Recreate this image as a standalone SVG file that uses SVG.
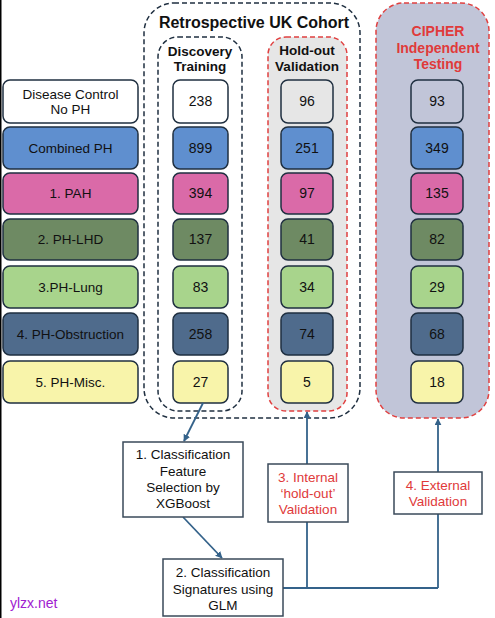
<svg xmlns="http://www.w3.org/2000/svg" width="495" height="618" viewBox="0 0 495 618">
<defs>
<marker id="arr" viewBox="0 0 10 10" refX="9" refY="5" markerWidth="7" markerHeight="7" markerUnits="userSpaceOnUse" orient="auto">
<path d="M0,0 L10,5 L0,10 z" fill="#34628a"/>
</marker>
</defs>
<style>
text{font-family:"Liberation Sans",Arial,sans-serif;fill:#111;text-anchor:middle}
.lbl{font-size:13.5px}
.num{font-size:14px}
.hd{font-size:13.5px;font-weight:bold}
.red{fill:#e03a3a}
.box{stroke:#1f2f40;stroke-width:1.5}
.step{fill:#fff;stroke:#3a4a5a;stroke-width:1.5}
.con{stroke:#34628a;stroke-width:1.8;fill:none}
.c0{fill:#ffffff}.c1{fill:#5f8fcf}.c2{fill:#da6aa8}.c3{fill:#6e8a63}.c4{fill:#a8d48c}.c5{fill:#4f6b8c}.c6{fill:#f8f4aa}
</style>
<rect x="0" y="0" width="495" height="618" fill="#fff"/>
<rect x="0" y="0" width="1.5" height="618" fill="#000"/>

<g id="cipher-group">
<rect x="376" y="3" width="113" height="415" rx="28" fill="#c1c5d8" stroke="#e04040" stroke-width="1.5" stroke-dasharray="5 3"/>
<text x="438" y="36" class="hd red" style="font-size:14px">CIPHER</text>
<text x="438" y="53" class="hd red" style="font-size:14px">Independent</text>
<text x="438" y="69" class="hd red" style="font-size:14px">Testing</text>
</g>
<g id="retro-group">
<rect x="144" y="3" width="216" height="415" rx="30" fill="none" stroke="#1f2f40" stroke-width="1.5" stroke-dasharray="5 3"/>
<text x="254" y="28" style="font-size:16px;font-weight:bold">Retrospective UK Cohort</text>
</g>
<g id="discovery-group">
<rect x="158" y="37" width="84" height="374" rx="20" fill="none" stroke="#1f2f40" stroke-width="1.5" stroke-dasharray="5 3"/>
<text x="200" y="56" class="hd">Discovery</text>
<text x="200" y="71" class="hd">Training</text>
</g>
<g id="holdout-group">
<rect x="268" y="37" width="79" height="374" rx="18" fill="#e6e6e6" stroke="#e04040" stroke-width="1.5" stroke-dasharray="5 3"/>
<text x="307" y="55" class="hd">Hold-out</text>
<text x="307" y="71" class="hd">Validation</text>
</g>

<g id="labels">
<g id="lbl-control"><rect class="box c0" x="3" y="80" width="135" height="43" rx="7"/><text class="lbl" x="70.5" y="99">Disease Control</text><text class="lbl" x="70.5" y="114">No PH</text></g>
<g id="lbl-combined"><rect class="box c1" x="3" y="127" width="135" height="42" rx="7"/><text class="lbl" x="70.5" y="153">Combined PH</text></g>
<g id="lbl-pah"><rect class="box c2" x="3" y="173" width="135" height="41" rx="7"/><text class="lbl" x="70.5" y="198">1. PAH</text></g>
<g id="lbl-lhd"><rect class="box c3" x="3" y="219" width="135" height="41" rx="7"/><text class="lbl" x="70.5" y="244">2. PH-LHD</text></g>
<g id="lbl-lung"><rect class="box c4" x="3" y="266" width="135" height="42" rx="7"/><text class="lbl" x="70.5" y="292">3.PH-Lung</text></g>
<g id="lbl-obs"><rect class="box c5" x="3" y="313" width="135" height="42" rx="7"/><text class="lbl" x="70.5" y="339">4. PH-Obstruction</text></g>
<g id="lbl-misc"><rect class="box c6" x="3" y="361" width="135" height="42" rx="7"/><text class="lbl" x="70.5" y="387">5. PH-Misc.</text></g>
</g>

<g id="disc-nums">
<g id="d1"><rect class="box c0" x="173" y="80" width="55" height="43" rx="7"/><text class="num" x="200.5" y="106">238</text></g>
<g id="d2"><rect class="box c1" x="173" y="127" width="55" height="42" rx="7"/><text class="num" x="200.5" y="153">899</text></g>
<g id="d3"><rect class="box c2" x="173" y="173" width="55" height="41" rx="7"/><text class="num" x="200.5" y="198">394</text></g>
<g id="d4"><rect class="box c3" x="173" y="219" width="55" height="41" rx="7"/><text class="num" x="200.5" y="244">137</text></g>
<g id="d5"><rect class="box c4" x="173" y="266" width="55" height="42" rx="7"/><text class="num" x="200.5" y="292">83</text></g>
<g id="d6"><rect class="box c5" x="173" y="313" width="55" height="42" rx="7"/><text class="num" x="200.5" y="339">258</text></g>
<g id="d7"><rect class="box c6" x="173" y="361" width="55" height="42" rx="7"/><text class="num" x="200.5" y="387">27</text></g>
</g>

<g id="hold-nums">
<g id="h1"><rect class="box" fill="#e6e6e6" x="281" y="80" width="52" height="43" rx="7"/><text class="num" x="307" y="106">96</text></g>
<g id="h2"><rect class="box c1" x="281" y="127" width="52" height="42" rx="7"/><text class="num" x="307" y="153">251</text></g>
<g id="h3"><rect class="box c2" x="281" y="173" width="52" height="41" rx="7"/><text class="num" x="307" y="198">97</text></g>
<g id="h4"><rect class="box c3" x="281" y="219" width="52" height="41" rx="7"/><text class="num" x="307" y="244">41</text></g>
<g id="h5"><rect class="box c4" x="281" y="266" width="52" height="42" rx="7"/><text class="num" x="307" y="292">34</text></g>
<g id="h6"><rect class="box c5" x="281" y="313" width="52" height="42" rx="7"/><text class="num" x="307" y="339">74</text></g>
<g id="h7"><rect class="box c6" x="281" y="361" width="52" height="42" rx="7"/><text class="num" x="307" y="387">5</text></g>
</g>

<g id="cipher-nums">
<g id="i1"><rect class="box" fill="#c1c5d8" x="411" y="80" width="52" height="43" rx="7"/><text class="num" x="437" y="106">93</text></g>
<g id="i2"><rect class="box c1" x="411" y="127" width="52" height="42" rx="7"/><text class="num" x="437" y="153">349</text></g>
<g id="i3"><rect class="box c2" x="411" y="173" width="52" height="41" rx="7"/><text class="num" x="437" y="198">135</text></g>
<g id="i4"><rect class="box c3" x="411" y="219" width="52" height="41" rx="7"/><text class="num" x="437" y="244">82</text></g>
<g id="i5"><rect class="box c4" x="411" y="266" width="52" height="42" rx="7"/><text class="num" x="437" y="292">29</text></g>
<g id="i6"><rect class="box c5" x="411" y="313" width="52" height="42" rx="7"/><text class="num" x="437" y="339">68</text></g>
<g id="i7"><rect class="box c6" x="411" y="361" width="52" height="42" rx="7"/><text class="num" x="437" y="387">18</text></g>
</g>

<g id="connectors">
<line class="con" x1="203" y1="403" x2="184" y2="441" marker-end="url(#arr)"/>
<line class="con" x1="183" y1="517" x2="222" y2="558" marker-end="url(#arr)"/>
<polyline class="con" points="283,588 438,588"/>
<line class="con" x1="307" y1="588" x2="307" y2="412" marker-end="url(#arr)"/>
<line class="con" x1="438" y1="588" x2="438" y2="419" marker-end="url(#arr)"/>
</g>

<g id="step1"><rect class="step" x="123" y="442" width="120" height="75"/>
<text class="lbl" x="183" y="459">1. Classification</text><text class="lbl" x="183" y="476">Feature</text><text class="lbl" x="183" y="492">Selection by</text><text class="lbl" x="183" y="508">XGBoost</text></g>
<g id="step2"><rect class="step" x="163" y="559" width="120" height="57"/>
<text class="lbl" x="223" y="577">2. Classification</text><text class="lbl" x="223" y="594">Signatures using</text><text class="lbl" x="223" y="610">GLM</text></g>
<g id="step3"><rect class="step" x="268" y="464" width="80" height="58"/>
<text class="lbl red" x="308" y="482">3. Internal</text><text class="lbl red" x="308" y="498">‘hold-out’</text><text class="lbl red" x="308" y="514">Validation</text></g>
<g id="step4"><rect class="step" x="394" y="472" width="88" height="42"/>
<text class="lbl red" x="438" y="490">4. External</text><text class="lbl red" x="438" y="506">Validation</text></g>

<text x="10" y="608" style="font-size:14px;fill:#a020d0;text-anchor:start">ylzx.net</text>
</svg>
